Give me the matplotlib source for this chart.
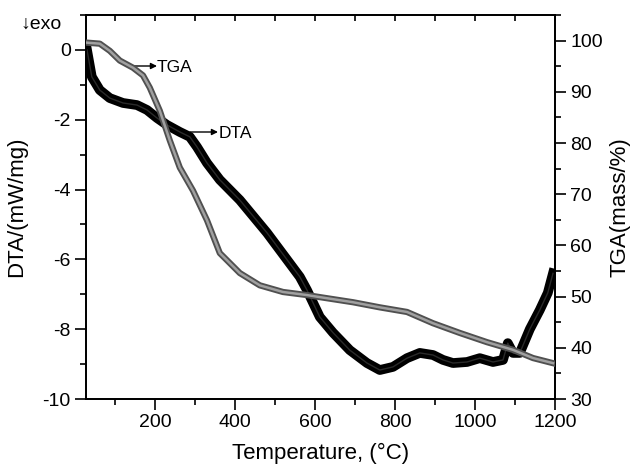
import matplotlib
matplotlib.use("Agg")
import matplotlib.pyplot as plt
from matplotlib.ticker import MultipleLocator

plt.rcParams['font.family'] = ['Liberation Sans', 'DejaVu Sans']
plt.rcParams['axes.unicode_minus'] = False

# DTA curve (mW/mg) vs temperature (°C)
dta_T = [30, 42, 62, 87, 120, 155, 180, 205, 230, 262, 287, 305, 330, 362, 412, 480,
         562, 580, 612, 645, 687, 730, 762, 795, 830, 862, 895, 920, 945, 980, 1012,
         1045, 1070, 1082, 1095, 1112, 1137, 1162, 1182, 1195]
dta_v = [0.0, -0.77, -1.15, -1.38, -1.52, -1.58, -1.72, -1.95, -2.15, -2.35, -2.49, -2.78,
         -3.24, -3.72, -4.3, -5.24, -6.5, -6.88, -7.65, -8.1, -8.6, -8.97, -9.17, -9.08,
         -8.83, -8.68, -8.74, -8.88, -8.97, -8.94, -8.83, -8.94, -8.88, -8.4, -8.68,
         -8.68, -8.0, -7.45, -6.96, -6.4]

# TGA curve (mass %) vs temperature (°C)
tga_T = [30, 62, 87, 112, 145, 170, 187, 212, 237, 262, 295, 330, 362, 412, 462, 520,
         580, 612, 695, 762, 830, 895, 962, 1030, 1095, 1145, 1195]
tga_v = [99.6, 99.4, 98.0, 96.1, 94.7, 93.2, 90.8, 86.3, 80.5, 75.2, 70.7, 64.9, 58.5,
         54.6, 52.2, 50.9, 50.3, 49.9, 48.9, 47.9, 47.0, 44.8, 42.9, 41.1, 39.6, 38.0, 37.0]

# inward tick positions along the top spine (°C)
top_ticks = [100, 200, 300, 400, 500, 600, 700, 800, 900, 1000, 1100, 1200]

W, H = 632, 465
fig = plt.figure(figsize=(W / 100, H / 100), dpi=100)
ax = fig.add_axes([86 / W, 1 - 399 / H, (555 - 86) / W, (399 - 15) / H])
ax2 = ax.twinx()

ax.plot(dta_T, dta_v, color='black', lw=7, zorder=3)
ax.plot(dta_T, dta_v, color='#2a2a2a', lw=1.0, zorder=4)
ax2.plot(tga_T, tga_v, color='#505050', lw=4.5, zorder=3)
ax2.plot(tga_T, tga_v, color='#a0a0a0', lw=1.8, zorder=4)

ax.set_xlim(27.5, 1200)
ax.set_ylim(-10, 1)
ax2.set_ylim(30, 105)

ax.xaxis.set_major_locator(MultipleLocator(200))
ax.xaxis.set_minor_locator(MultipleLocator(100))
ax.yaxis.set_major_locator(MultipleLocator(2))
ax.yaxis.set_minor_locator(MultipleLocator(1))
ax2.yaxis.set_major_locator(MultipleLocator(10))
ax2.yaxis.set_minor_locator(MultipleLocator(5))

for a in (ax, ax2):
    for s in a.spines.values():
        s.set_linewidth(1.3)

ax.tick_params(axis='both', which='major', direction='out', length=8, width=1.2,
               labelsize=14, pad=3)
ax.tick_params(axis='both', which='minor', direction='out', length=4, width=1.2)
ax2.tick_params(axis='y', which='major', direction='out', length=8, width=1.2,
                labelsize=14, pad=3)
ax2.tick_params(axis='y', which='minor', direction='out', length=4, width=1.2)

# inward ticks on the top spine (x in data units, y in axes fraction)
ax.vlines(top_ticks, 1 - 6 / 384, 1, transform=ax.get_xaxis_transform(),
          colors='black', linewidth=1.2, clip_on=False, zorder=6)

ax.set_xlabel('Temperature, (°C)', fontsize=16, labelpad=8)
ax.set_ylabel('DTA/(mW/mg)', fontsize=16, labelpad=11)
ax2.set_ylabel('TGA(mass/%)', fontsize=16, labelpad=5)

fig.text(20 / W, 1 - 24 / H, '↓exo', fontsize=14, va='center', ha='left')

arrow = dict(arrowstyle='-|>', color='black', lw=1, mutation_scale=9, shrinkA=0, shrinkB=0)
ax.annotate('', xy=(157, H - 66), xytext=(132, H - 66), xycoords='figure pixels',
            textcoords='figure pixels', arrowprops=arrow)
fig.text(157 / W, 1 - 68 / H, 'TGA', fontsize=12.5, va='center', ha='left')
ax.annotate('', xy=(218, H - 132), xytext=(190, H - 132), xycoords='figure pixels',
            textcoords='figure pixels', arrowprops=arrow)
fig.text(219 / W, 1 - 134 / H, 'DTA', fontsize=12.5, va='center', ha='left')

fig.savefig('out.png')
